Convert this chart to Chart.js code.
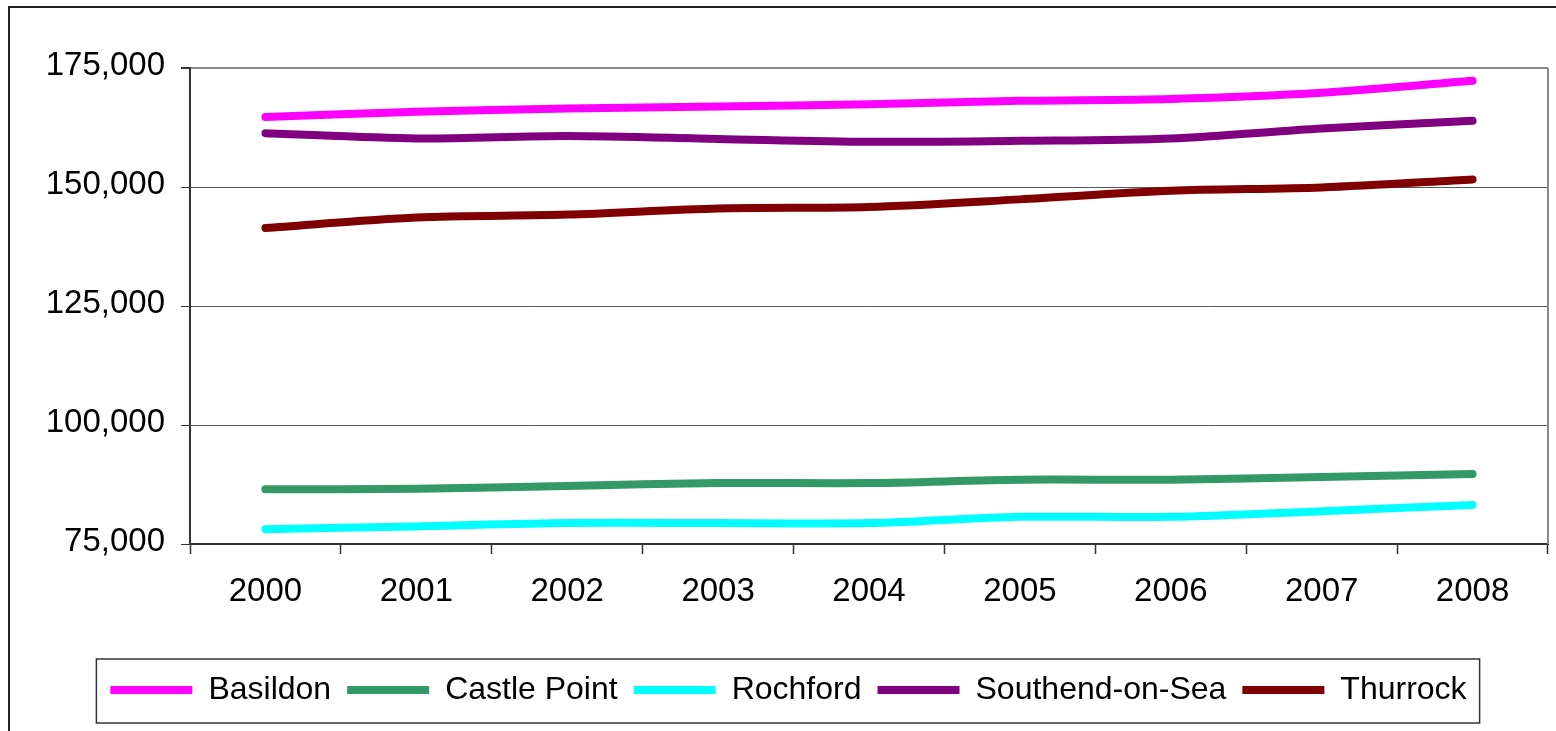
<!DOCTYPE html>
<html>
<head>
<meta charset="utf-8">
<title>Population 2000-2008</title>
<script src="https://cdn.jsdelivr.net/npm/chart.js@4/dist/chart.umd.min.js"></script>
<style>
  html, body { margin: 0; padding: 0; background: #ffffff; }
  canvas { display: block; }
</style>
</head>
<body>
<canvas id="chart" width="1556" height="731"></canvas>
<script>
// Mid-year population estimates by district
const years = ['2000', '2001', '2002', '2003', '2004', '2005', '2006', '2007', '2008'];
const basildon    = [164700, 165800, 166500, 166900, 167400, 168100, 168500, 169800, 172300];
const castlePoint = [86500, 86600, 87200, 87800, 87800, 88500, 88500, 89100, 89700];
const rochford    = [78100, 78700, 79400, 79400, 79400, 80700, 80700, 81900, 83200];
const southend    = [161300, 160200, 160700, 160100, 159500, 159700, 160200, 162300, 163900];
const thurrock    = [141400, 143600, 144200, 145500, 145800, 147400, 149200, 149900, 151600];

const yMin = 75000;
const yMax = 175000;
const yStep = 25000;

const FONT = 'Liberation Sans, Arial, sans-serif';

function series(label, data, color) {
  return {
    label: label,
    data: data,
    borderColor: color,
    backgroundColor: color,
    borderWidth: 8,
    borderCapStyle: 'round',
    borderJoinStyle: 'round',
    pointRadius: 0,
    pointHoverRadius: 0,
    pointStyle: 'line',
    tension: 0.3,
    fill: false
  };
}

// Outer frame, plot border on the right, and a box around the legend
const framePlugin = {
  id: 'frames',
  beforeDraw(chart) {
    const ctx = chart.ctx;
    ctx.save();
    ctx.fillStyle = '#ffffff';
    ctx.fillRect(0, 0, chart.width, chart.height);
    ctx.strokeStyle = '#222222';
    ctx.lineWidth = 2;
    ctx.strokeRect(9, 7, chart.width + 40, chart.height + 40);
    ctx.restore();
  },
  afterDraw(chart) {
    const ctx = chart.ctx;
    const a = chart.chartArea;
    ctx.save();
    ctx.strokeStyle = '#888888';
    ctx.lineWidth = 2;
    ctx.beginPath();
    ctx.moveTo(a.right, a.top);
    ctx.lineTo(a.right, a.bottom);
    ctx.stroke();

    const lg = chart.legend;
    if (lg && lg.legendHitBoxes && lg.legendHitBoxes.length) {
      const boxes = lg.legendHitBoxes;
      const first = boxes[0];
      const last = boxes[boxes.length - 1];
      const cy = first.top + first.height / 2;
      const left = first.left - 14;
      const right = last.left + last.width + 13;
      ctx.strokeStyle = '#333333';
      ctx.lineWidth = 1.5;
      ctx.strokeRect(left, cy - 31, right - left, 64);
    }
    ctx.restore();
  }
};

new Chart(document.getElementById('chart'), {
  type: 'line',
  data: {
    labels: years,
    datasets: [
      series('Basildon', basildon, '#ff00ff'),
      series('Castle Point', castlePoint, '#339966'),
      series('Rochford', rochford, '#00ffff'),
      series('Southend-on-Sea', southend, '#800080'),
      series('Thurrock', thurrock, '#800000')
    ]
  },
  options: {
    responsive: false,
    devicePixelRatio: 1,
    animation: false,
    events: [],
    layout: {
      padding: { left: 29, right: 8, top: 68, bottom: 15 }
    },
    plugins: {
      title: { display: false },
      tooltip: { enabled: false },
      legend: {
        display: true,
        position: 'bottom',
        align: 'center',
        labels: {
          usePointStyle: true,
          pointStyle: 'line',
          pointStyleWidth: 82,
          padding: 16,
          color: '#000000',
          font: { family: FONT, size: 32 }
        }
      }
    },
    scales: {
      x: {
        type: 'category',
        offset: true,
        afterFit(scale) { scale.height = 114; },
        grid: {
          offset: true,
          drawOnChartArea: false,
          drawTicks: true,
          tickLength: 10,
          tickColor: '#333333',
          tickWidth: 1.5
        },
        border: { display: true, color: '#333333', width: 2 },
        ticks: {
          color: '#000000',
          padding: 18,
          maxRotation: 0,
          autoSkip: false,
          font: { family: FONT, size: 33 }
        }
      },
      y: {
        min: yMin,
        max: yMax,
        afterFit(scale) { scale.width = 161; },
        grid: {
          drawTicks: true,
          tickLength: 9,
          tickColor: '#333333',
          color: (c) => (c.tick && c.tick.value === yMax ? '#888888' : '#555555'),
          lineWidth: (c) => (c.tick && c.tick.value === yMax ? 2 : 1)
        },
        border: { display: true, color: '#333333', width: 2 },
        ticks: {
          stepSize: yStep,
          color: '#000000',
          padding: 16,
          labelOffset: -2,
          font: { family: FONT, size: 33 },
          callback: (v) => Number(v).toLocaleString('en-US')
        }
      }
    }
  },
  plugins: [framePlugin]
});
</script>
</body>
</html>
